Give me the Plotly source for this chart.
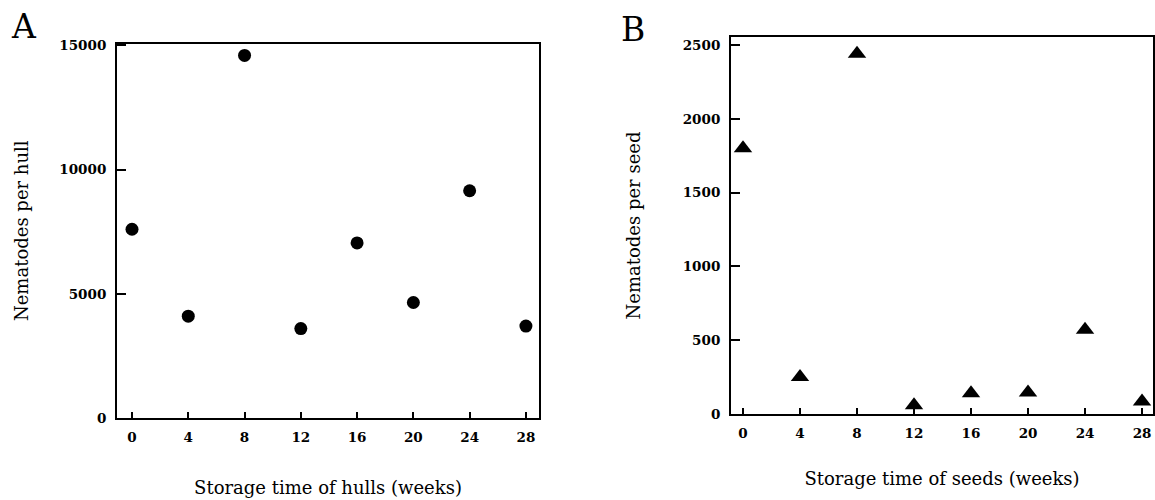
import plotly.graph_objects as go

# Data
weeks = [0, 4, 8, 12, 16, 20, 24, 28]
hulls = [7600, 4100, 14600, 3600, 7050, 4650, 9150, 3700]
seeds = [1800, 250, 2440, 60, 140, 145, 570, 85]
x_ticks = [0, 4, 8, 12, 16, 20, 24, 28]
yA_ticks = [0, 5000, 10000, 15000]
yB_ticks = [0, 500, 1000, 1500, 2000, 2500]

W, H = 1155, 500
def px_x(p): return p / W
def px_y(p): return 1 - p / H

SERIF = "DejaVu Serif"
tickfont = dict(family=SERIF, size=13.5, color="black", weight="bold")
titlefont = dict(family=SERIF, size=18, color="black")

fig = go.Figure()
fig.add_trace(go.Scatter(x=weeks, y=hulls, mode="markers", xaxis="x", yaxis="y",
                         marker=dict(symbol="circle", size=13, color="black"),
                         showlegend=False))
fig.add_trace(go.Scatter(x=weeks, y=seeds, mode="markers", xaxis="x2", yaxis="y2",
                         marker=dict(symbol="triangle-up", size=16, color="black"),
                         showlegend=False))

axis_common = dict(showline=True, linecolor="black", linewidth=2, mirror=True,
                   ticks="inside", tickcolor="black", tickwidth=1.5,
                   showgrid=False, zeroline=False, tickfont=tickfont,
                   ticklabelstandoff=6, automargin=False)

fig.update_layout(
    width=W, height=H, margin=dict(l=0, r=0, t=0, b=0),
    paper_bgcolor="white", plot_bgcolor="white",
    xaxis=dict(domain=[px_x(117), px_x(539)], range=[-1.066, 28.93],
               tickvals=x_ticks, ticktext=[str(v) for v in x_ticks], ticklen=6, anchor="y",
               title=dict(text="Storage time of hulls (weeks)", font=titlefont, standoff=37),
               **axis_common),
    yaxis=dict(domain=[px_y(418), px_y(43.5)], range=[0, 15080],
               tickvals=yA_ticks, ticktext=[str(v) for v in yA_ticks], ticklen=9, anchor="x",
               title=dict(text="Nematodes per hull", font=titlefont, standoff=26),
               **axis_common),
    xaxis2=dict(domain=[px_x(731), px_x(1153)], range=[-0.842, 28.77],
                tickvals=x_ticks, ticktext=[str(v) for v in x_ticks], ticklen=6, anchor="y2",
                title=dict(text="Storage time of seeds (weeks)", font=titlefont, standoff=32),
                **axis_common),
    yaxis2=dict(domain=[px_y(414), px_y(37)], range=[0, 2554],
                tickvals=yB_ticks, ticktext=[str(v) for v in yB_ticks], ticklen=9, anchor="x2",
                title=dict(text="Nematodes per seed", font=titlefont, standoff=37),
                **axis_common),
    annotations=[
        dict(text="A", x=px_x(9), y=px_y(5), xref="paper", yref="paper",
             xanchor="left", yanchor="top", showarrow=False,
             font=dict(family=SERIF, size=33, color="black")),
        dict(text="B", x=px_x(619), y=px_y(8), xref="paper", yref="paper",
             xanchor="left", yanchor="top", showarrow=False,
             font=dict(family=SERIF, size=33, color="black")),
    ],
)

fig.write_html("out.html", config={"displayModeBar": False},
               post_script="document.body.style.margin='0';document.body.style.overflow='hidden';")
